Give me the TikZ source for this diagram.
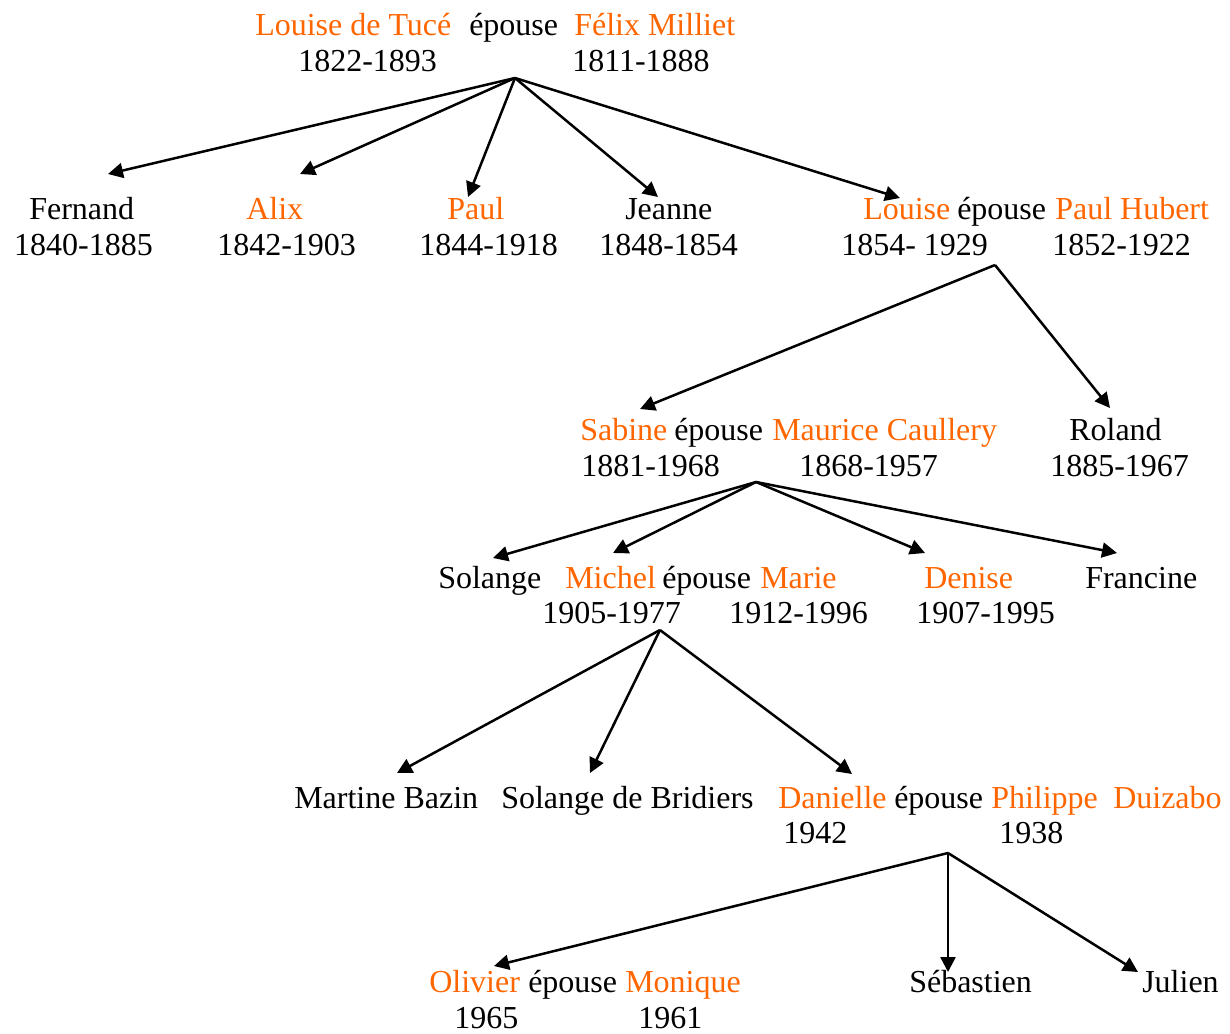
\documentclass[tikz,border=0pt]{standalone}
\usepackage{fontspec}
\setmainfont{Liberation Serif}
\usetikzlibrary{arrows.meta,calc}
\definecolor{nomorange}{RGB}{255,102,0}
\begin{document}
\begin{tikzpicture}[x=0.5pt,y=-0.5pt,line width=1.25pt,
  >={Triangle[length=7.5pt,width=7.5pt]},
  every node/.style={inner sep=0pt,anchor=base west,font=\fontsize{16}{19}\selectfont},
  nom/.style={text=nomorange}]
\useasboundingbox (0,0) rectangle (1230,1033);
% generation 0
\node [nom](LT) at (254,35) {Louise de Tucé};
\node (E0) at (468,35) {épouse};
\node [nom](FM) at (573,35) {Félix Milliet};
\node (LTd) at (297,71) {1822-1893};
\node (FMd) at (571,71) {1811-1888};
\coordinate (j0) at (515,78);
% generation 1
\node (Fer) at (28,219) {Fernand};
\node (Ferd) at (13,255) {1840-1885};
\node [nom](Ali) at (245,219) {Alix};
\node (Alid) at (216,255) {1842-1903};
\node [nom](Pau) at (446,219) {Paul};
\node (Paud) at (418,255) {1844-1918};
\node (Jea) at (624,219) {Jeanne};
\node (Jead) at (598,255) {1848-1854};
\node [nom](Lou) at (862,219) {Louise};
\node (E1) at (956,219) {épouse};
\node [nom](PH) at (1054,219) {Paul Hubert};
\node (Loud) at (840,255) {1854- 1929};
\node (PHd) at (1051,255) {1852-1922};
\coordinate (j1) at (995,265);
\draw [->](j0) -- ($(Fer.base west)+(80,-45)$);
\draw [->](j0) -- ($(Ali.base west)+(55,-45)$);
\draw [->](j0) -- ($(Pau.base west)+(22,-22)$);
\draw [->](j0) -- ($(Jea.base west)+(34,-22)$);
\draw [->](j0) -- ($(Lou.base west)+(38,-21)$);
% generation 2
\node [nom](Sab) at (579,440) {Sabine};
\node (E2) at (673,440) {épouse};
\node [nom](MC) at (771,440) {Maurice Caullery};
\node (Sabd) at (580,476) {1881-1968};
\node (MCd) at (798,476) {1868-1957};
\node (Rol) at (1068,440) {Roland};
\node (Rold) at (1049,476) {1885-1967};
\coordinate (j2) at (756,482);
\draw [->](j1) -- ($(Sab.base west)+(61,-31)$);
\draw [->](j1) -- ($(Rol.base west)+(42,-32)$);
% generation 3
\node (Sol) at (437,588) {Solange};
\node [nom](Mic) at (564,588) {Michel};
\node (E3) at (661,588) {épouse};
\node [nom](Mar) at (759,588) {Marie};
\node [nom](Den) at (923,588) {Denise};
\node (Fra) at (1084,588) {Francine};
\node (Micd) at (541,623) {1905-1977};
\node (Mard) at (728,623) {1912-1996};
\node (Dend) at (915,623) {1907-1995};
\coordinate (j3) at (660,630);
\draw [->](j2) -- ($(Sol.base west)+(56,-30)$);
\draw [->](j2) -- ($(Mic.base west)+(49,-35)$);
\draw [->](j2) -- ($(Den.base west)+(2,-35)$);
\draw [->](j2) -- ($(Fra.base west)+(33,-35)$);
% generation 4
\node (MB) at (293,808) {Martine Bazin};
\node (SB) at (500,808) {Solange de Bridiers};
\node [nom](Dan) at (777,808) {Danielle};
\node (E4) at (893,808) {épouse};
\node [nom](Phi) at (990,808) {Philippe};
\node [nom](Dui) at (1112,808) {Duizabo};
\node (Dand) at (782,843) {1942};
\node (Phid) at (998,843) {1938};
\coordinate (j4) at (948,853);
\draw [->](j3) -- ($(MB.base west)+(104,-35)$);
\draw [->](j3) -- ($(SB.base west)+(90,-35)$);
\draw [->](j3) -- ($(Dan.base west)+(75,-34)$);
% generation 5
\node [nom](Oli) at (428,992) {Olivier};
\node (E5) at (527,992) {épouse};
\node [nom](Mon) at (624,992) {Monique};
\node (Seb) at (908,992) {Sébastien};
\node (Jul) at (1141,992) {Julien};
\node (Olid) at (453,1028) {1965};
\node (Mond) at (637,1028) {1961};
\draw [->](j4) -- ($(Oli.base west)+(66,-26)$);
\draw [->](j4) -- ($(Seb.base west)+(40,-20)$);
\draw [->](j4) -- ($(Jul.base west)+(-3,-20)$);
\end{tikzpicture}
\end{document}
